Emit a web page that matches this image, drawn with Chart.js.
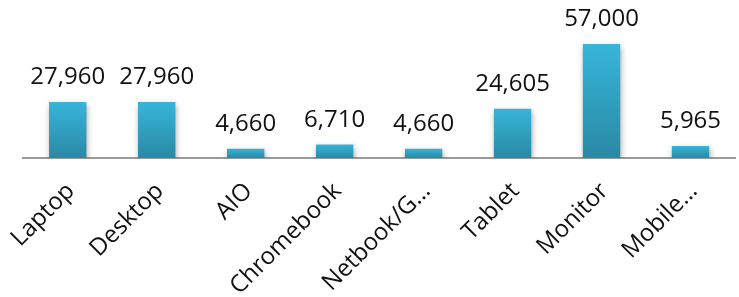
<!DOCTYPE html>
<html>
<head>
<meta charset="utf-8">
<script src="https://cdn.jsdelivr.net/npm/chart.js@4"></script>
<style>
  html, body { margin: 0; padding: 0; background: #fff; }
  #wrap { width: 739px; height: 297px; }
</style>
</head>
<body>
<div id="wrap"><canvas id="deviceChart"></canvas></div>
<script>
const categories = ["Laptop", "Desktop", "AIO", "Chromebook", "Netbook/G…", "Tablet", "Monitor", "Mobile…"];
const units = [27960, 27960, 4660, 6710, 4660, 24605, 57000, 5965];

const FONT = "'Open Sans', 'Noto Sans', sans-serif";

// per-bar vertical gradient, light on top
function barGradient(context) {
  const chart = context.chart;
  const { ctx, chartArea, scales } = chart;
  if (!chartArea) return "#33afd5";
  const top = scales.y.getPixelForValue(context.raw);
  const base = scales.y.getPixelForValue(0);
  const g = ctx.createLinearGradient(0, top, 0, base);
  g.addColorStop(0, "#37b5da");
  g.addColorStop(1, "#2a89a4");
  return g;
}

const barShadow = {
  id: "barShadow",
  beforeDatasetDraw(chart) {
    const ctx = chart.ctx;
    ctx.save();
    ctx.shadowColor = "rgba(0,0,0,0.35)";
    ctx.shadowBlur = 6;
    ctx.shadowOffsetX = 1;
    ctx.shadowOffsetY = 3;
  },
  afterDatasetDraw(chart) {
    chart.ctx.restore();
  }
};

const valueLabels = {
  id: "valueLabels",
  afterDatasetsDraw(chart) {
    const ctx = chart.ctx;
    const meta = chart.getDatasetMeta(0);
    ctx.save();
    ctx.font = "24px " + FONT;
    ctx.fillStyle = "#111";
    ctx.textAlign = "center";
    ctx.textBaseline = "alphabetic";
    meta.data.forEach((bar, i) => {
      ctx.fillText(units[i].toLocaleString("en-US"), bar.x, bar.y - 18);
    });
    ctx.restore();
  }
};

new Chart(document.getElementById("deviceChart"), {
  type: "bar",
  data: {
    labels: categories,
    datasets: [{
      data: units,
      backgroundColor: barGradient,
      borderWidth: 0,
      categoryPercentage: 1,
      barPercentage: 0.42
    }]
  },
  options: {
    responsive: true,
    maintainAspectRatio: false,
    animation: false,
    layout: { padding: { top: 38, left: 23, right: 4, bottom: 0 } },
    plugins: { legend: { display: false }, tooltip: { enabled: false } },
    scales: {
      x: {
        grid: { display: false },
        border: { display: true, color: "#9a9a9a", width: 2 },
        ticks: {
          color: "#111",
          font: { family: FONT, size: 24 },
          autoSkip: false,
          maxRotation: 45,
          minRotation: 45,
          padding: 11,
          labelOffset: 3
        },
        afterFit: s => { s.height = 139; }
      },
      y: {
        display: false,
        min: 0,
        max: 60000
      }
    }
  },
  plugins: [barShadow, valueLabels]
});
</script>
</body>
</html>
